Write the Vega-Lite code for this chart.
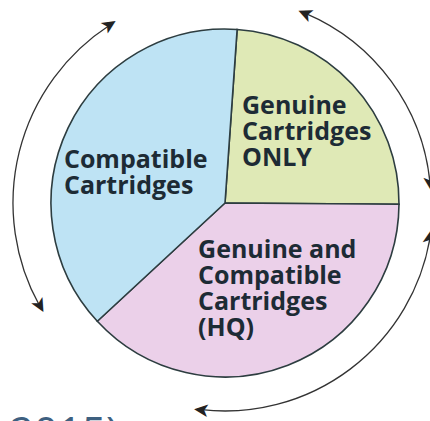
{
  "$schema": "https://vega.github.io/schema/vega-lite/v6.json",
  "width": 410,
  "height": 406,
  "autosize": {"type": "none"},
  "padding": {"left": 20, "top": 0, "right": 0, "bottom": 15},
  "background": "#ffffff",
  "view": {"stroke": null},
  "title": {
    "text": "2015)",
    "orient": "bottom",
    "anchor": "start",
    "frame": "group",
    "offset": -7,
    "dx": -10,
    "font": "Open Sans",
    "fontSize": 42,
    "fontWeight": "normal",
    "color": "#3e6080"
  },
  "datasets": {
    "slices": [
      {"category": "Genuine Cartridges ONLY", "value": 24, "ord": 1},
      {"category": "Genuine and Compatible Cartridges (HQ)", "value": 38, "ord": 2},
      {"category": "Compatible Cartridges", "value": 38, "ord": 3}
    ],
    "labels": [
      {"label": "Compatible\nCartridges", "deg": 285.1, "dist": 166.8},
      {"label": "Genuine\nCartridges\nONLY", "deg": 10.0, "dist": 98},
      {"label": "Genuine and\nCompatible\nCartridges\n(HQ)", "deg": 209.6, "dist": 54.6}
    ],
    "arrows": [
      {"name": "left", "from": 241, "to": 327, "r": 212},
      {"name": "topright", "from": 23, "to": 84.5, "r": 206},
      {"name": "bottomright", "from": 99.5, "to": 186.5, "r": 208}
    ],
    "heads": [
      {"deg": 241, "r": 212, "rot": 61},
      {"deg": 327, "r": 212, "rot": 327},
      {"deg": 23, "r": 206, "rot": 203},
      {"deg": 84.5, "r": 206, "rot": 84.5},
      {"deg": 99.5, "r": 208, "rot": 279.5},
      {"deg": 186.5, "r": 208, "rot": 186.5}
    ]
  },
  "layer": [
    {
      "data": {"name": "slices"},
      "mark": {"type": "arc", "radius": 174, "stroke": "#2d3d40", "strokeWidth": 1.6},
      "encoding": {
        "theta": {"field": "value", "type": "quantitative", "stack": true, "scale": {"range": [0.0698, 6.3530]}},
        "order": {"field": "ord", "type": "quantitative"},
        "color": {
          "field": "category",
          "type": "nominal",
          "scale": {
            "domain": ["Genuine Cartridges ONLY", "Genuine and Compatible Cartridges (HQ)", "Compatible Cartridges"],
            "range": ["#dfe9b6", "#ebd0e9", "#bee3f4"]
          },
          "legend": null
        }
      }
    },
    {
      "data": {"name": "arrows"},
      "mark": {"type": "arc", "filled": false, "stroke": "#333333", "strokeWidth": 1.3},
      "encoding": {
        "theta": {"field": "from", "type": "quantitative", "scale": {"domain": [0, 360], "range": [0, 6.2832]}},
        "theta2": {"field": "to"},
        "radius": {"field": "r", "type": "quantitative", "scale": {"type": "linear", "domain": [0, 205], "range": [0, 205], "zero": true}},
        "radius2": {"field": "r"}
      }
    },
    {
      "data": {"name": "heads"},
      "mark": {"type": "text", "text": "➤", "font": "DejaVu Sans", "fontSize": 20, "align": "center", "baseline": "middle", "color": "#222222"},
      "encoding": {
        "theta": {"field": "deg", "type": "quantitative", "scale": {"domain": [0, 360], "range": [0, 6.2832]}},
        "radius": {"field": "r", "type": "quantitative", "scale": {"type": "linear", "domain": [0, 205], "range": [0, 205], "zero": true}},
        "angle": {"field": "rot", "type": "quantitative", "scale": null}
      }
    },
    {
      "data": {"name": "labels"},
      "transform": [{"calculate": "split(datum.label, '\\n')", "as": "lines"}],
      "mark": {"type": "text", "font": "Open Sans", "fontSize": 25, "fontWeight": "bold", "lineHeight": 26, "align": "left", "baseline": "middle", "color": "#1d2b35"},
      "encoding": {
        "theta": {"field": "deg", "type": "quantitative", "scale": {"domain": [0, 360], "range": [0, 6.2832]}},
        "radius": {"field": "dist", "type": "quantitative", "scale": {"type": "linear", "domain": [0, 205], "range": [0, 205], "zero": true}},
        "text": {"field": "lines"}
      }
    }
  ],
  "resolve": {"scale": {"theta": "independent", "radius": "independent"}}
}
